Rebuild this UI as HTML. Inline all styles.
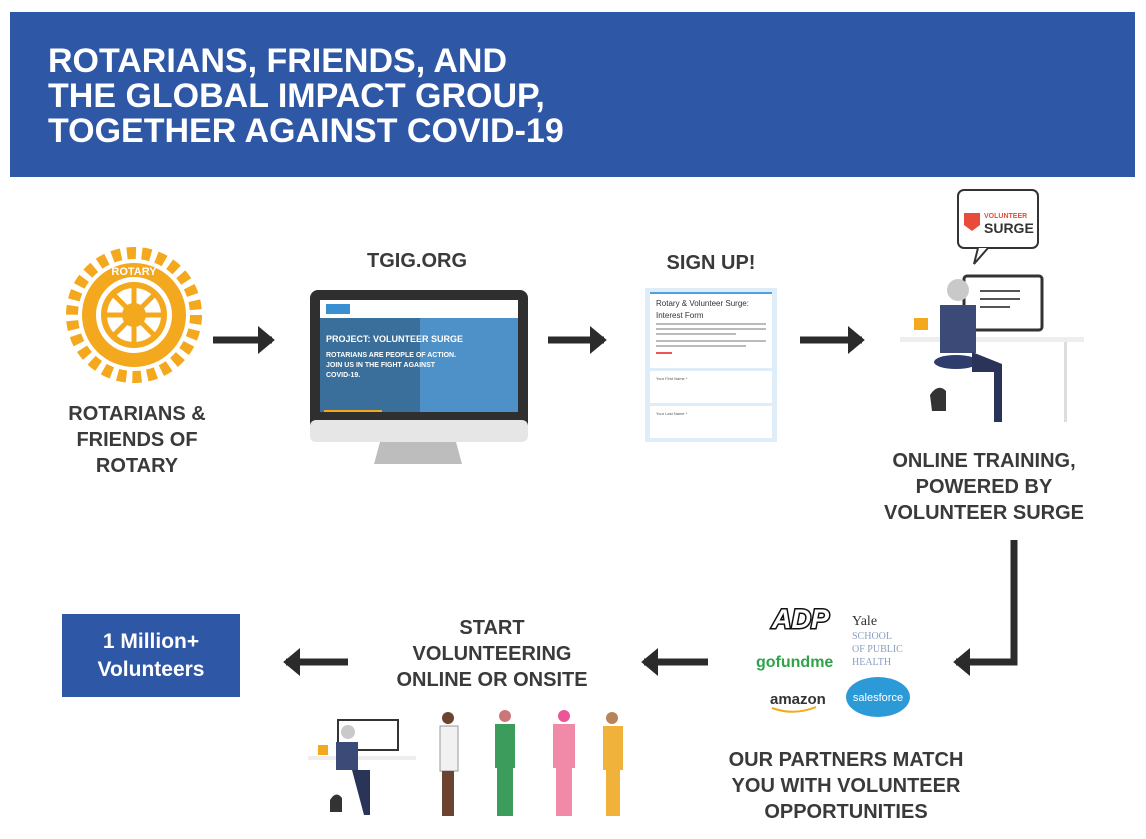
<!DOCTYPE html>
<html><head><meta charset="utf-8"><style>
body{margin:0;width:1146px;height:839px;background:#fff;position:relative;overflow:hidden;font-family:"Liberation Sans",sans-serif}
.t{position:absolute;font-weight:bold;color:#3a3a3a;text-align:center;font-size:20px;line-height:26px;transform:translateX(-50%);white-space:nowrap}
</style></head><body>
<div style="position:absolute;left:10px;top:12px;width:1125px;height:165px;background:#2e57a6"></div>
<div style="position:absolute;left:48px;top:44px;color:#fff;font-weight:bold;font-size:34px;line-height:35px">ROTARIANS, FRIENDS, AND<br>THE GLOBAL IMPACT GROUP,<br>TOGETHER AGAINST COVID-19</div>
<svg width="1146" height="839" style="position:absolute;left:0;top:0">
<defs><marker id="a" markerWidth="4" markerHeight="4" refX="2" refY="2" orient="auto" markerUnits="strokeWidth"><path d="M0,0L2.4,2L0,4z" fill="#2b2b2b"/></marker></defs>
<g stroke="#2b2b2b" stroke-width="7" fill="none">
<line x1="213" y1="340" x2="272" y2="340" marker-end="url(#a)"/>
<line x1="548" y1="340" x2="604" y2="340" marker-end="url(#a)"/>
<line x1="800" y1="340" x2="862" y2="340" marker-end="url(#a)"/>
<polyline points="1014,540 1014,662 956,662" marker-end="url(#a)"/>
<line x1="708" y1="662" x2="644" y2="662" marker-end="url(#a)"/>
<line x1="348" y1="662" x2="286" y2="662" marker-end="url(#a)"/>
</g>
<g transform="translate(134,315)" fill="#f4a81d">
<circle r="62" fill="none" stroke="#f4a81d" stroke-width="12" stroke-dasharray="9 6"/>
<circle r="52" fill="#f4a81d"/><circle r="38" fill="#fff"/>
<circle r="30" fill="none" stroke="#f4a81d" stroke-width="6"/>
<circle r="12"/><circle r="5" fill="#fff"/>
<g stroke="#f4a81d" stroke-width="5"><line x1="-30" y1="0" x2="30" y2="0"/><line x1="0" y1="-30" x2="0" y2="30"/><line x1="-21" y1="-21" x2="21" y2="21"/><line x1="21" y1="-21" x2="-21" y2="21"/></g>
<text y="-40" font-size="11" font-weight="bold" fill="#fff" text-anchor="middle">ROTARY</text>
</g>
<rect x="310" y="290" width="218" height="150" rx="8" fill="#2f2f2f"/>
<rect x="310" y="420" width="218" height="22" rx="6" fill="#e6e6e6"/>
<path d="M380 442h76l6 22h-88z" fill="#bdbdbd"/>
<rect x="320" y="300" width="198" height="18" fill="#fff"/>
<rect x="326" y="304" width="24" height="10" fill="#3a8fd0"/>
<rect x="320" y="318" width="198" height="94" fill="#3b6f9b"/>
<rect x="420" y="318" width="98" height="94" fill="#4d91c8"/>
<text x="326" y="342" font-size="9" font-weight="bold" fill="#fff">PROJECT: VOLUNTEER SURGE</text>
<text x="326" y="357" font-size="7" font-weight="bold" fill="#fff">ROTARIANS ARE PEOPLE OF ACTION.</text>
<text x="326" y="367" font-size="7" font-weight="bold" fill="#fff">JOIN US IN THE FIGHT AGAINST</text>
<text x="326" y="377" font-size="7" font-weight="bold" fill="#fff">COVID-19.</text>
<rect x="324" y="410" width="58" height="2" fill="#f4a81d"/>
<rect x="645" y="288" width="132" height="154" fill="#deedf7"/>
<rect x="650" y="292" width="122" height="2" fill="#4da3e0"/>
<rect x="650" y="294" width="122" height="74" fill="#fff"/>
<rect x="650" y="371" width="122" height="32" fill="#fff"/>
<rect x="650" y="406" width="122" height="32" fill="#fff"/>
<text x="656" y="306" font-size="8" fill="#333">Rotary &amp; Volunteer Surge:</text>
<text x="656" y="318" font-size="8" fill="#333">Interest Form</text>
<g fill="#bbb"><rect x="656" y="323" width="110" height="2"/><rect x="656" y="328" width="110" height="2"/><rect x="656" y="333" width="80" height="2"/><rect x="656" y="340" width="110" height="2"/><rect x="656" y="345" width="90" height="2"/></g>
<rect x="656" y="352" width="16" height="2" fill="#e55"/>
<text x="656" y="380" font-size="4" fill="#555">Your First Name *</text>
<text x="656" y="415" font-size="4" fill="#555">Your Last Name *</text>
<rect x="958" y="190" width="80" height="58" rx="6" fill="#fff" stroke="#333" stroke-width="2"/>
<path d="M978 248l-4 16 14-16" fill="#fff" stroke="#333" stroke-width="2"/>
<path d="M964 213h16v12l-8 6-8-6z" fill="#e84b3a"/>
<text x="984" y="218" font-size="7" font-weight="bold" fill="#e84b3a">VOLUNTEER</text>
<text x="984" y="233" font-size="14" font-weight="bold" fill="#333">SURGE</text>
<rect x="964" y="276" width="78" height="54" rx="3" fill="#fff" stroke="#333" stroke-width="3"/>
<g fill="#555"><rect x="980" y="290" width="40" height="2"/><rect x="980" y="298" width="40" height="2"/><rect x="980" y="306" width="30" height="2"/></g>
<rect x="900" y="337" width="184" height="5" fill="#eee"/>
<rect x="1064" y="342" width="3" height="80" fill="#ddd"/>
<circle cx="958" cy="290" r="11" fill="#c9c9c9"/>
<path d="M940 305h36v48h-36z" fill="#3c4a78"/>
<ellipse cx="956" cy="362" rx="22" ry="7" fill="#2e3d6e"/>
<path d="M972 352v20h22v50h8v-58z" fill="#2a3358"/>
<path d="M930 395q8-12 16-4v20h-14z" fill="#333"/>
<rect x="914" y="318" width="14" height="12" fill="#f4a81d"/>
<rect x="338" y="720" width="60" height="30" fill="#fff" stroke="#333" stroke-width="2"/>
<rect x="308" y="756" width="108" height="4" fill="#eee"/>
<circle cx="348" cy="732" r="7" fill="#c9c9c9"/>
<path d="M336 742h22v28h-22z" fill="#3c4a78"/>
<path d="M352 770h18v45h-6z" fill="#2a3358"/>
<rect x="318" y="745" width="10" height="10" fill="#f4a81d"/>
<path d="M330 800q6-10 12-2v14h-12z" fill="#333"/>
<g>
<circle cx="448" cy="718" r="6" fill="#6b4330"/><rect x="440" y="726" width="18" height="45" fill="#f1f1f1" stroke="#999"/><rect x="442" y="771" width="12" height="45" fill="#6b4330"/>
<circle cx="505" cy="716" r="6" fill="#c77"/><rect x="495" y="724" width="20" height="44" fill="#3c9c5c"/><rect x="497" y="768" width="16" height="48" fill="#3c9c5c"/>
<circle cx="564" cy="716" r="6" fill="#e59"/><rect x="553" y="724" width="22" height="44" fill="#f08aa8"/><rect x="556" y="768" width="16" height="48" fill="#f08aa8"/>
<circle cx="612" cy="718" r="6" fill="#b7855a"/><rect x="603" y="726" width="20" height="44" fill="#f0b23a"/><rect x="606" y="770" width="14" height="46" fill="#f0b23a"/>
</g>
<text x="772" y="628" font-size="27" font-weight="bold" font-style="italic" fill="#fff" stroke="#111" stroke-width="3" paint-order="stroke">ADP</text>
<text x="756" y="667" font-size="16" font-weight="bold" fill="#2fa34a">gofundme</text>
<text x="770" y="704" font-size="15" font-weight="bold" fill="#333">amazon</text>
<path d="M772 708q22 8 44 -1" stroke="#f4a81d" stroke-width="2" fill="none"/>
<text x="852" y="625" font-size="14" font-family="Liberation Serif" fill="#333">Yale</text>
<g font-size="10" font-family="Liberation Serif" fill="#8a9ec0"><text x="852" y="639">SCHOOL</text><text x="852" y="652">OF PUBLIC</text><text x="852" y="665">HEALTH</text></g>
<ellipse cx="878" cy="697" rx="32" ry="20" fill="#2d9ad8"/>
<text x="878" y="701" font-size="11" fill="#fff" text-anchor="middle">salesforce</text>
</svg>
<div class="t" style="left:417px;top:248px">TGIG.ORG</div>
<div class="t" style="left:711px;top:250px">SIGN UP!</div>
<div class="t" style="left:137px;top:401px">ROTARIANS &amp;<br>FRIENDS OF<br>ROTARY</div>
<div class="t" style="left:984px;top:448px">ONLINE TRAINING,<br>POWERED BY<br>VOLUNTEER SURGE</div>
<div class="t" style="left:492px;top:615px">START<br>VOLUNTEERING<br>ONLINE OR ONSITE</div>
<div class="t" style="left:846px;top:747px">OUR PARTNERS MATCH<br>YOU WITH VOLUNTEER<br>OPPORTUNITIES</div>
<div style="position:absolute;left:62px;top:614px;width:178px;height:83px;background:#2e57a6;color:#fff;font-weight:bold;font-size:21px;line-height:28px;text-align:center;display:flex;align-items:center;justify-content:center">1 Million+<br>Volunteers</div>
</body></html>
